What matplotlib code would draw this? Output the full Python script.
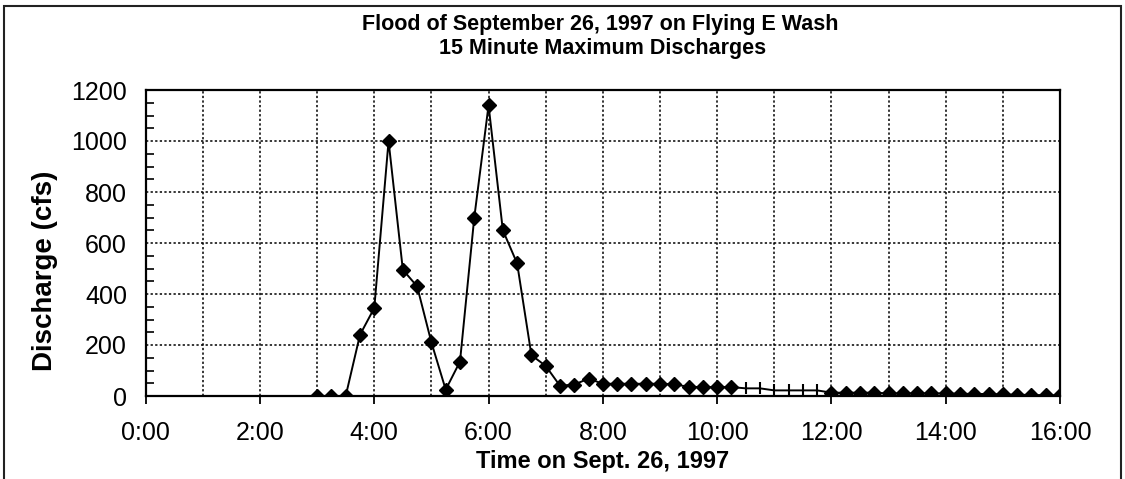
import matplotlib
matplotlib.use('Agg')
import matplotlib.pyplot as plt
from matplotlib.patches import Rectangle
from matplotlib.ticker import MultipleLocator, FuncFormatter

plt.rcParams['font.family'] = ['Liberation Sans', 'DejaVu Sans']

title1 = 'Flood of September 26, 1997 on Flying E Wash'
title2 = '15 Minute Maximum Discharges'
xlabel = 'Time on Sept. 26, 1997'
ylabel = 'Discharge (cfs)'

# 15 minute readings marked with diamonds
times_a = ['3:00', '3:15', '3:30', '3:45', '4:00', '4:15', '4:30', '4:45',
           '5:00', '5:15', '5:30', '5:45', '6:00', '6:15', '6:30', '6:45',
           '7:00', '7:15', '7:30', '7:45', '8:00', '8:15', '8:30', '8:45',
           '9:00', '9:15', '9:30', '9:45', '10:00', '10:15']
flow_a = [0, 0, 0, 240, 345, 1000, 495, 430,
          210, 25, 135, 700, 1140, 650, 520, 160,
          118, 40, 45, 68, 48, 48, 48, 48,
          48, 46, 36, 35, 35, 35]

# readings marked with ticks
times_b = ['10:30', '10:45', '11:00', '11:15', '11:30', '11:45']
flow_b = [30, 30, 22, 22, 22, 22]

times_c = ['12:00', '12:15', '12:30', '12:45', '13:00', '13:15', '13:30',
           '13:45', '14:00', '14:15', '14:30', '14:45', '15:00', '15:15',
           '15:30', '15:45', '16:00']
flow_c = [13, 13, 13, 13, 10, 10, 10,
          10, 10, 9, 8, 8, 6, 5,
          4, 3, 2]

W, H = 1125, 479


def hours(labels):
    out = []
    for s in labels:
        h, m = s.split(':')
        out.append(int(h) + int(m) / 60)
    return out


def main():
    fig = plt.figure(figsize=(W / 100, H / 100), dpi=100)
    ax = fig.add_axes([145.7 / W, 1 - 396 / H, (1060 - 145.7) / W, (396 - 90) / H])
    draw(ax)

    fig.text(600 / W, 1 - 30 / H, title1, ha='center', va='baseline',
             fontsize=15.5, fontweight='bold')
    fig.text(603 / W, 1 - 54 / H, title2, ha='center', va='baseline',
             fontsize=15.5, fontweight='bold')
    fig.text(603 / W, 1 - 468 / H, xlabel, ha='center', va='baseline',
             fontsize=17, fontweight='bold')
    fig.text(45 / W, 1 - 271 / H, ylabel, ha='center', va='center',
             rotation=90, fontsize=20, fontweight='bold')

    fig.patches.append(Rectangle((4 / W, -0.05), (1121 - 4) / W, 1.05 - 5.7 / H,
                                 transform=fig.transFigure, fill=False,
                                 edgecolor='#222222', linewidth=1.5))
    fig.savefig('out.png', dpi=100)


def draw(ax):
    xa, xb, xc = hours(times_a), hours(times_b), hours(times_c)
    ax.plot(xa + xb + xc, flow_a + flow_b + flow_c, color='black', lw=1.4, zorder=3)
    ax.plot(xa, flow_a, ls='none', marker='D', ms=7.6, color='black', zorder=4)
    ax.plot(xc, flow_c, ls='none', marker='D', ms=7.6, color='black', zorder=4)
    ax.plot(xb, flow_b, ls='none', marker='|', ms=8.5, mew=1.5, color='black', zorder=4)

    ax.set_xlim(0, 16)
    ax.set_ylim(0, 1200)
    ax.xaxis.set_major_locator(MultipleLocator(2))
    ax.xaxis.set_minor_locator(MultipleLocator(1))
    ax.xaxis.set_major_formatter(FuncFormatter(lambda v, p: f'{int(v)}:00'))
    ax.yaxis.set_major_locator(MultipleLocator(200))
    ax.yaxis.set_minor_locator(MultipleLocator(50))

    ax.grid(True, axis='x', which='both', color='black', ls=(0, (1.5, 1.5)), lw=1.1)
    ax.grid(True, axis='y', which='major', color='black', ls=(0, (1.5, 1.5)), lw=1.1)
    ax.set_axisbelow(True)

    ax.tick_params(axis='x', which='major', direction='out', length=5.8, width=1.3,
                   labelsize=18, pad=12, color='black')
    ax.tick_params(axis='x', which='minor', length=0)
    ax.tick_params(axis='y', which='major', length=0, labelsize=18, pad=13.5)
    ax.tick_params(axis='y', which='minor', direction='in', length=5.5, width=1.2)

    for s in ax.spines.values():
        s.set_linewidth(1.6)
        s.set_color('black')
    return ax


if __name__ == '__main__':
    main()
